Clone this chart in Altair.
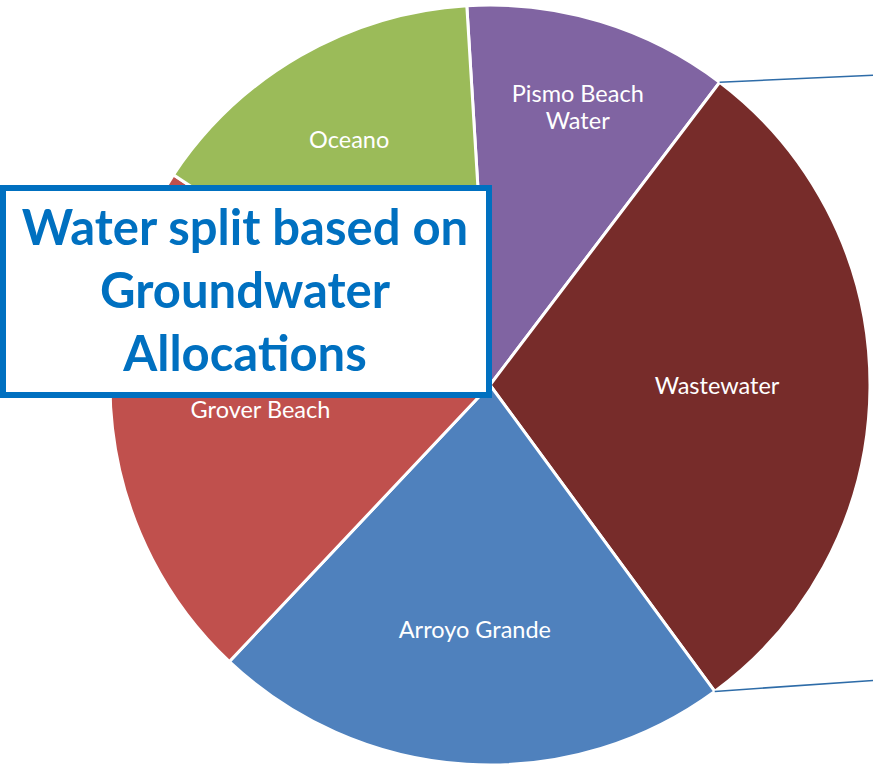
import math
import altair as alt
import pandas as pd

# Groundwater allocation split (share of total, %), clockwise from the top
categories = ["Pismo Beach Water", "Wastewater", "Arroyo Grande", "Grover Beach", "Oceano"]
shares = [11.3, 29.6, 22.1, 22.3, 14.7]
labels = ["Pismo Beach\nWater", "Wastewater", "Arroyo Grande", "Grover Beach", "Oceano"]
colors = ["#8064A2", "#772C2A", "#4F81BD", "#C0504D", "#9BBB59"]

# layout / styling
W, H = 873, 769
CX, CY, R = 490, 385, 380
START = 2 * math.pi - math.radians(3.5)      # first slice begins just left of 12 o'clock
label_radius = [303, 227, 246, 231, 282]
title_lines = "Water split based on\nGroundwater\nAllocations"
BLUE = "#0070C0"

total = sum(shares)
before = [sum(shares[:i]) for i in range(len(shares))]
df = pd.DataFrame({
    "category": categories,
    "share": shares,
    "label": labels,
    "order": list(range(len(categories))),
    "lr": label_radius,
    # angle (radians) at the middle of each slice, for the labels
    "mid": [START + 2 * math.pi * (b + s / 2) / total for b, s in zip(before, shares)],
})

pie = alt.Chart(df).mark_arc(
    outerRadius=R, stroke="white", strokeWidth=3
).encode(
    theta=alt.Theta("share:Q", stack=True,
                    scale=alt.Scale(range=[START, START + 2 * math.pi])),
    order=alt.Order("order:Q"),
    color=alt.Color("category:N", legend=None,
                    scale=alt.Scale(domain=categories, range=colors)),
    x=alt.value(CX), y=alt.value(CY),
)

slice_text = alt.Chart(df).mark_text(
    font="Lato", fontSize=23.5, color="white", lineBreak="\n",
    lineHeight=27, align="center", baseline="middle",
).encode(
    theta=alt.Theta("mid:Q", scale=None),
    radius=alt.Radius("lr:Q", scale=None),
    text="label:N",
    x=alt.value(CX), y=alt.value(CY),
)

# leader lines leaving the pie at the two Wastewater edges
edges = [sum(shares[:1]) / total, sum(shares[:2]) / total]
rise = [7, 11]
lead_rows = []
for f, dy in zip(edges, rise):
    a = START + f * 2 * math.pi
    x0 = CX + R * math.sin(a)
    y0 = CY - R * math.cos(a)
    lead_rows.append({"x": x0, "y": y0, "x2": W, "y2": y0 - dy})
leaders = alt.Chart(pd.DataFrame(lead_rows)).mark_rule(
    color="#2E6CA8", strokeWidth=1.5
).encode(
    x=alt.X("x:Q", scale=None), y=alt.Y("y:Q", scale=None),
    x2="x2:Q", y2="y2:Q",
)

box_df = pd.DataFrame({"t": [title_lines]})
box = alt.Chart(box_df).mark_rect(
    fill="white", stroke=BLUE, strokeWidth=6
).encode(
    x=alt.value(3), x2=alt.value(489), y=alt.value(188), y2=alt.value(395),
)
title = alt.Chart(box_df).mark_text(
    font="Lato", fontWeight="bold", fontSize=49, color=BLUE,
    lineBreak="\n", lineHeight=63, align="center", baseline="middle",
).encode(
    text="t:N", x=alt.value(245), y=alt.value(230),
)

chart = alt.layer(pie, slice_text, leaders, box, title).properties(
    width=W, height=H, padding=0, autosize=alt.AutoSizeParams(type="none"),
).configure_view(stroke=None)

chart.save("out.html", embed_options={"renderer": "svg", "actions": False})
